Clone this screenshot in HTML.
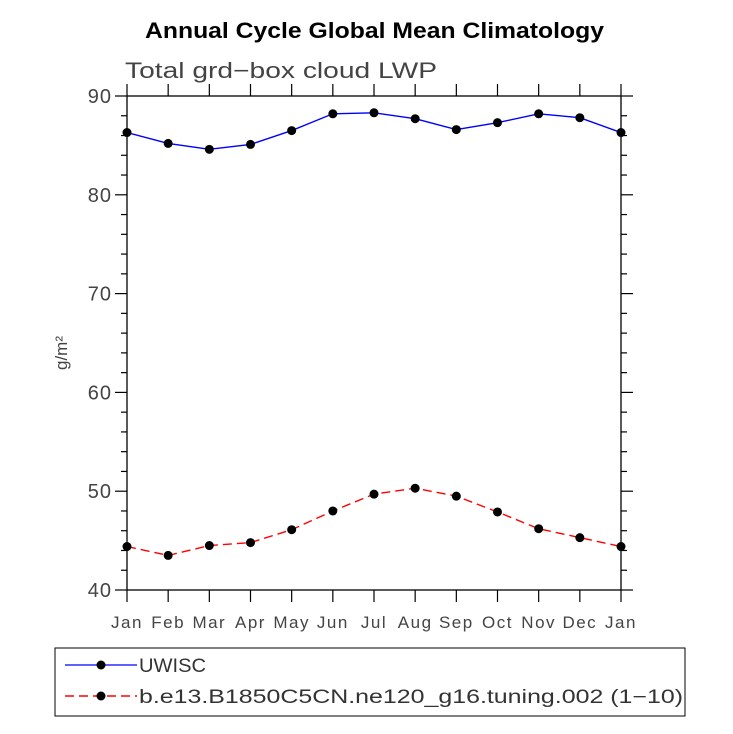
<!DOCTYPE html>
<html><head><meta charset="utf-8"><style>body{margin:0;background:#fff}svg{display:block}</style></head>
<body>
<svg id="c" width="733" height="734" xmlns="http://www.w3.org/2000/svg" font-family="Liberation Sans, sans-serif">
<text x="145" y="38" textLength="459" lengthAdjust="spacingAndGlyphs" font-size="22" font-weight="bold">Annual Cycle Global Mean Climatology</text>
<text x="125" y="78" textLength="312" lengthAdjust="spacingAndGlyphs" font-size="22" fill="#444">Total grd−box cloud LWP</text>
<text transform="translate(67,353) rotate(-90)" text-anchor="middle" font-size="17" fill="#444">g/m²</text>
<g id="axes"></g>
<g id="series"></g>
<rect x="55" y="648" width="630" height="68" fill="none" stroke="#000"/>
<g>
<line x1="65" y1="665" x2="137" y2="665" stroke="#00f" stroke-width="1.3"/><circle cx="101" cy="665" r="4.5"/>
<text x="139" y="672" textLength="67" lengthAdjust="spacingAndGlyphs" font-size="19" fill="#333">UWISC</text></g>
<g>
<line x1="65" y1="696" x2="137" y2="696" stroke="#f00" stroke-width="1.5" stroke-dasharray="9,5"/><circle cx="101" cy="696" r="4.5"/>
<text x="139" y="703" textLength="544" lengthAdjust="spacingAndGlyphs" font-size="19" fill="#333">b.e13.B1850C5CN.ne120_g16.tuning.002 (1−10)</text></g>
</svg>
<script>
const months=["Jan","Feb","Mar","Apr","May","Jun","Jul","Aug","Sep","Oct","Nov","Dec","Jan"];
const uwisc=[86.3,85.2,84.6,85.1,86.5,88.2,88.3,87.7,86.6,87.3,88.2,87.8,86.3];
const model=[44.4,43.5,44.5,44.8,46.1,48.0,49.7,50.3,49.5,47.9,46.2,45.3,44.4];
const yTicks=[40,50,60,70,80,90];
const L=127,R=621,T=96,B=590,yMin=40,yMax=90;
const xs=i=>L+(R-L)*i/(months.length-1);
const ys=v=>B-(B-T)*(v-yMin)/(yMax-yMin);
const NS="http://www.w3.org/2000/svg";
function mk(t,a,p){const e=document.createElementNS(NS,t);for(const k in a)e.setAttribute(k,a[k]);p.appendChild(e);return e;}
const ax=document.getElementById('axes');
const frame=mk('rect',{x:L,y:T,width:R-L,height:B-T,fill:'none',stroke:'#000','stroke-width':1.3},ax);


for(let v=yMin;v<=yMax;v+=2){const maj=(v%10===0);const y=ys(v);const len=maj?12:6;
 mk('line',{x1:L-len,y1:y,x2:L,y2:y,stroke:'#000','stroke-width':1.2},ax);
 mk('line',{x1:R,y1:y,x2:R+len,y2:y,stroke:'#000','stroke-width':1.2},ax);}
yTicks.forEach(v=>{const t=mk('text',{x:L-15,y:ys(v)+7,'text-anchor':'end','font-size':20,fill:'#444','letter-spacing':1},ax);t.textContent=v;
 
 });
months.forEach((m,i)=>{const x=xs(i);
 mk('line',{x1:x,y1:B,x2:x,y2:B+12,stroke:'#000','stroke-width':1.2},ax);
 mk('line',{x1:x,y1:T-12,x2:x,y2:T,stroke:'#000','stroke-width':1.2},ax);
 const t=mk('text',{x:x,y:B+38,'text-anchor':'middle','font-size':17,fill:'#444','letter-spacing':1.5},ax);t.textContent=m;
 
 });
const sg=document.getElementById('series');
function draw(vals,color,dash,name){
 const g=mk('g',{},sg);
 
 
 mk('polyline',{points:vals.map((v,i)=>xs(i)+','+ys(v)).join(' '),fill:'none',stroke:color,'stroke-width':1.4,'stroke-dasharray':dash},g);
 vals.forEach((v,i)=>{const c=mk('circle',{cx:xs(i),cy:ys(v),r:4.5,fill:'#000'},g);
  
  });
}
draw(uwisc,'#00f','none','series-uwisc');
draw(model,'#f00','9,5','series-model');
</script>
</body></html>
